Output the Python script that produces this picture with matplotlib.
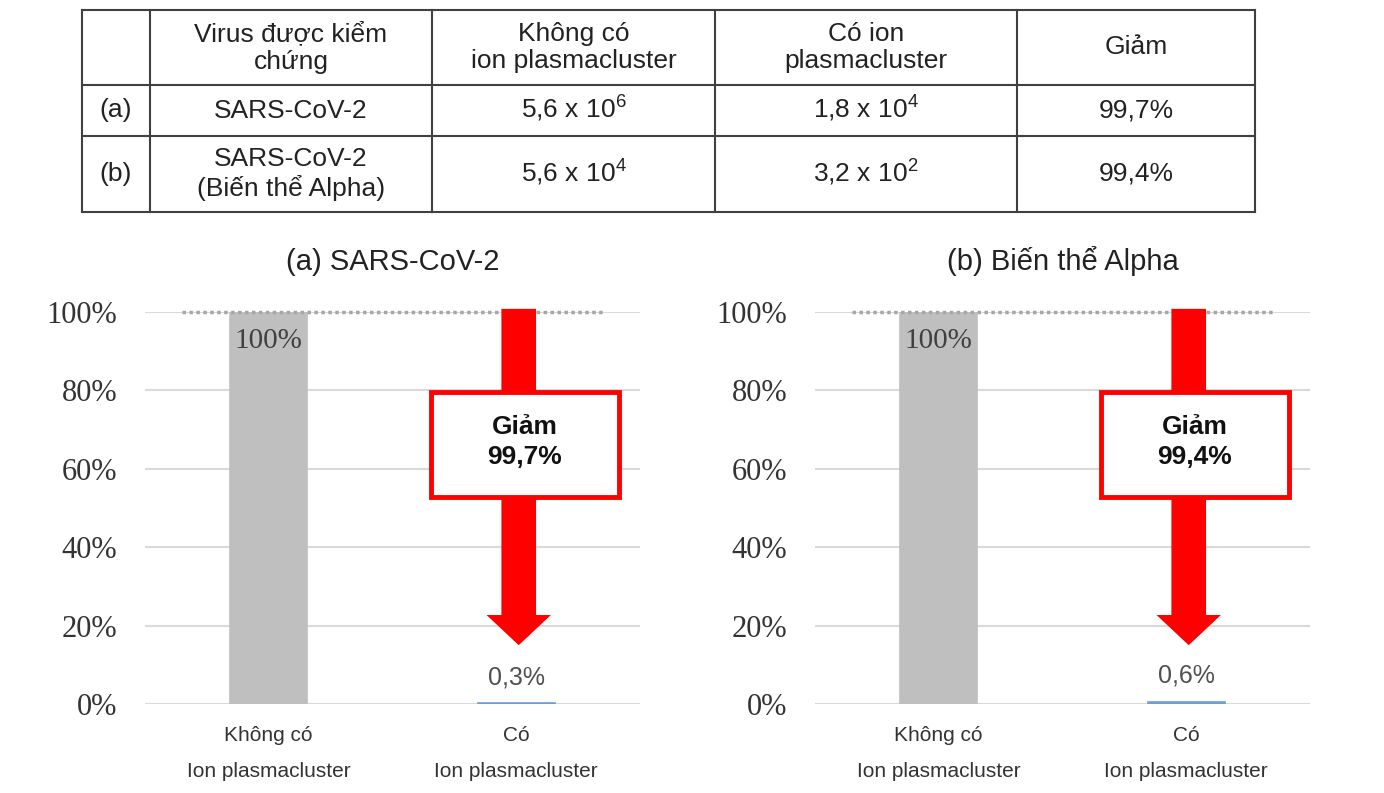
import matplotlib.pyplot as plt
from matplotlib.patches import FancyArrow, Rectangle

plt.rcParams['font.family'] = ['Liberation Sans', 'DejaVu Sans']
plt.rcParams['mathtext.fontset'] = 'custom'
plt.rcParams['mathtext.rm'] = 'Liberation Sans'

# table data
row_tags = ["(a)", "(b)"]
virus_names = ["SARS-CoV-2", "SARS-CoV-2\n(Biến thể Alpha)"]
without_mant = [5.6, 5.6]
without_exp = [6, 4]
with_mant = [1.8, 3.2]
with_exp = [4, 2]
reduction = [99.7, 99.4]
headers = ["", "Virus được kiểm\nchứng", "Không có\nion plasmacluster",
           "Có ion\nplasmacluster", "Giảm"]

# chart data
categories = ["Không có\nIon plasmacluster", "Có\nIon plasmacluster"]
titles = ["(a) SARS-CoV-2", "(b) Biến thể Alpha"]
values_a = [100, 0.3]
values_b = [100, 0.6]
yticks = [0, 20, 40, 60, 80, 100]

GRAY = '#bfbfbf'
BLUE = '#6d9fd6'
RED = '#ff0000'
GRID = '#d9d9d9'
SERIF = 'Liberation Serif'


def comma(v):
    return f"{v:.1f}".replace('.', ',')


fig = plt.figure(figsize=(13.84, 7.93), dpi=100)

# ---- table (pixel coordinates on an overlay axes)
tab = fig.add_axes([0, 0, 1, 1])
tab.set_xlim(0, 1384)
tab.set_ylim(793, 0)
tab.axis('off')
col_edges = [82, 150, 432, 715, 1017, 1255]
row_edges = [10, 85, 136, 212]
for x in col_edges:
    tab.plot([x, x], [row_edges[0], row_edges[-1]], color='#404040', lw=1.5)
for y in row_edges:
    tab.plot([col_edges[0], col_edges[-1]], [y, y], color='#404040', lw=1.5)

col_c = [(col_edges[i] + col_edges[i + 1]) / 2 for i in range(5)]
row_c = [(row_edges[i] + row_edges[i + 1]) / 2 for i in range(3)]
tk = dict(ha='center', va='center', fontsize=19, color='#222222')
sk = dict(ha='center', va='baseline', fontsize=19, color='#222222')
for i, h in enumerate(headers):
    tab.text(col_c[i], row_c[0], h, **tk)
for r in range(2):
    y = row_c[r + 1]
    tab.text(col_c[0], y, row_tags[r], **tk)
    tab.text(col_c[1], y, virus_names[r], **tk)
    tab.text(col_c[2], y + 7, f"{comma(without_mant[r])} x 10$^{{{without_exp[r]}}}$", **sk)
    tab.text(col_c[3], y + 7, f"{comma(with_mant[r])} x 10$^{{{with_exp[r]}}}$", **sk)
    tab.text(col_c[4], y + 7, f"{comma(reduction[r])}%", **sk)


# ---- bar charts
def draw_panel(left, values, title, red_pct):
    ax = fig.add_axes([left / 1384, 89 / 793, 495 / 1384, 392 / 793])
    x = range(len(categories))
    ax.bar(x, values, width=0.31, color=[GRAY, BLUE], edgecolor=[GRAY, BLUE],
           lw=1.2, zorder=2)
    ax.set_xlim(-0.5, 1.5)
    ax.set_ylim(0, 100)
    ax.set_yticks(yticks)
    ax.set_yticklabels([f"{t}%" for t in yticks], fontfamily=SERIF,
                       fontsize=22, color='#333333')
    ax.set_xticks(list(x))
    ax.set_xticklabels(categories, fontsize=15, color='#333333', linespacing=2.15)
    ax.tick_params(axis='y', length=0, pad=20)
    ax.tick_params(axis='x', length=0, pad=16)
    ax.yaxis.grid(True, color=GRID, lw=1.5, zorder=0)
    for s in ax.spines.values():
        s.set_visible(False)
    ax.set_title(title, fontsize=21, color='#222222', pad=30)

    # 100% reference line
    ax.plot([-0.35, 1.35], [values[0], values[0]], color='#a6a6a6', lw=2.5,
            ls=(0, (1, 1)), zorder=3, clip_on=False)

    # bar labels
    ax.text(0, values[0] - 4, f"{values[0]}%", ha='center', va='top',
            fontfamily=SERIF, fontsize=21, color='#404040', zorder=4)
    ax.text(1, values[1] + 3.5, f"{comma(values[1])}%", ha='center', va='bottom',
            fontsize=18, color='#505050', zorder=4)

    # red arrow + box
    ax.add_patch(FancyArrow(1.01, 100.8, 0, -85.8, width=0.14, head_width=0.26,
                            head_length=7.7, length_includes_head=True,
                            color=RED, lw=0, zorder=5, clip_on=False))
    ax.add_patch(Rectangle((0.655, 52.8), 0.76, 26.8, facecolor='white',
                           edgecolor=RED, lw=3.5, zorder=6))
    ax.text(1.035, 66.8, f"Giảm\n{comma(red_pct)}%", ha='center', va='center',
            fontsize=19, fontweight='bold', color='#111111', zorder=7,
            linespacing=1.35)
    return ax


draw_panel(145, values_a, titles[0], reduction[0])
draw_panel(815, values_b, titles[1], reduction[1])

fig.savefig('out.png', dpi=100)
